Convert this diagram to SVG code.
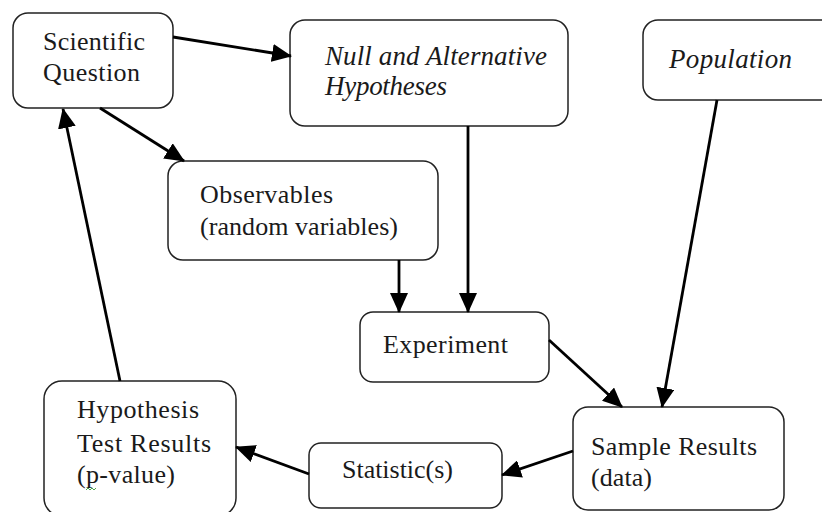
<svg xmlns="http://www.w3.org/2000/svg" width="822" height="512" viewBox="0 0 822 512">
<style>
.box{fill:#fff;stroke:#222;stroke-width:1.5}
.t{font-family:"Liberation Serif","Times New Roman",serif;font-size:26px;fill:#1a1a1a}
.i{font-style:italic;font-size:27px}
.c line{stroke:#000;stroke-width:2.8;marker-end:url(#ah)}
</style>
<defs>
<marker id="ah" viewBox="0 0 20 18" refX="19" refY="9" markerWidth="20" markerHeight="18" markerUnits="userSpaceOnUse" orient="auto">
<path d="M0,0 L20,9 L0,18 z" fill="#000"/>
</marker>
</defs>
<rect width="822" height="512" fill="#fff"/>
<g id="sci">
<rect class="box" x="13" y="13" width="160" height="95" rx="15"/>
<text class="t" x="43" y="50" textLength="102">Scientific</text>
<text class="t" x="43" y="81" textLength="97">Question</text>
</g>
<g id="null">
<rect class="box" x="290" y="20" width="278" height="106" rx="15"/>
<text class="t i" x="325" y="65" textLength="222">Null and Alternative</text>
<text class="t i" x="325" y="95" textLength="122">Hypotheses</text>
</g>
<g id="pop">
<rect class="box" x="643" y="20" width="200" height="80" rx="15"/>
<text class="t i" x="669" y="68" textLength="123">Population</text>
</g>
<g id="obs">
<rect class="box" x="168" y="161" width="270" height="99" rx="15"/>
<text class="t" x="200" y="203" textLength="133">Observables</text>
<text class="t" x="200" y="235" textLength="198">(random variables)</text>
</g>
<g id="exp">
<rect class="box" x="360" y="312" width="189" height="70" rx="13"/>
<text class="t" x="383" y="353" textLength="125">Experiment</text>
</g>
<g id="hyp">
<rect class="box" x="44" y="381" width="192" height="135" rx="18"/>
<text class="t" x="77" y="418" textLength="122">Hypothesis</text>
<text class="t" x="77" y="452" textLength="134">Test Results</text>
<text class="t" x="77" y="483" textLength="98">(p-value)</text>
<path d="M86,490 l2,-2 l2,2 l2,-2 l2,2 l2,-2" fill="none" stroke="#3a9a3a" stroke-width="0.9"/>
</g>
<g id="stat">
<rect class="box" x="309" y="443" width="193" height="65" rx="12"/>
<text class="t" x="342" y="478" textLength="111">Statistic(s)</text>
</g>
<g id="samp">
<rect class="box" x="573" y="407" width="211" height="103" rx="15"/>
<text class="t" x="591" y="455" textLength="166">Sample Results</text>
<text class="t" x="591" y="486" textLength="61">(data)</text>
</g>
<g class="c" id="connectors">
<line x1="173" y1="37" x2="291" y2="56"/>
<line x1="100" y1="108" x2="184" y2="161"/>
<line x1="120" y1="381" x2="63" y2="109"/>
<line x1="399" y1="260" x2="399" y2="312"/>
<line x1="468" y1="126" x2="468" y2="312"/>
<line x1="717" y1="100" x2="662" y2="407"/>
<line x1="549" y1="340" x2="622" y2="407"/>
<line x1="573" y1="451" x2="502" y2="475"/>
<line x1="309" y1="474" x2="236" y2="447"/>
</g>
</svg>
